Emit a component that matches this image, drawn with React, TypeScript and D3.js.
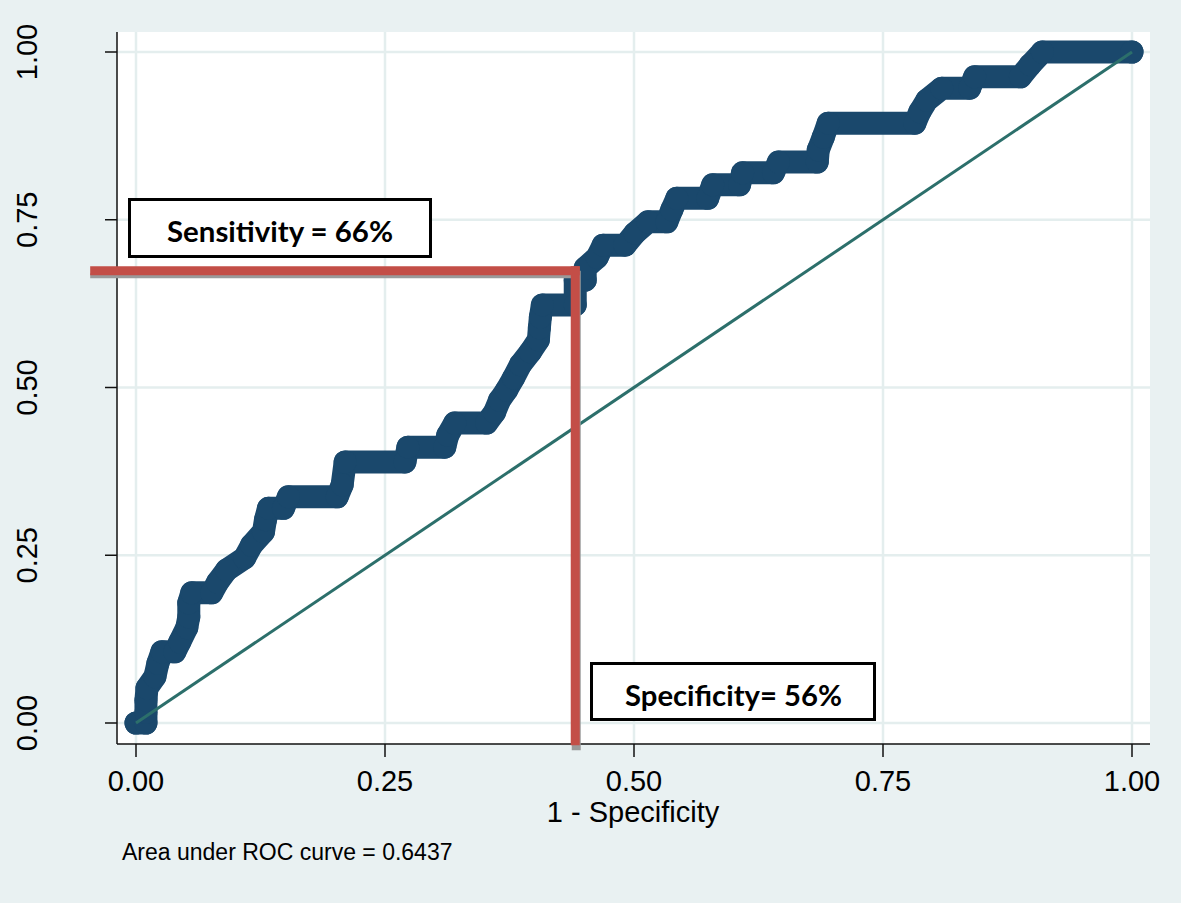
import React from "react";
import * as d3 from "d3";

// ROC curve points (1 - specificity, sensitivity)
const fpr = [
  0, 0.01, 0.01, 0.01, 0.011, 0.019, 0.022, 0.026, 0.039, 0.044, 0.051, 0.053, 0.053, 0.056, 0.076,
  0.082, 0.091, 0.109, 0.116, 0.128, 0.13, 0.133, 0.148, 0.153, 0.202, 0.207, 0.21, 0.27, 0.273,
  0.31, 0.313, 0.32, 0.352, 0.36, 0.365, 0.372, 0.379, 0.386, 0.396, 0.404, 0.405, 0.406, 0.408,
  0.441, 0.441, 0.451, 0.451, 0.463, 0.469, 0.491, 0.501, 0.514, 0.533, 0.538, 0.543, 0.574, 0.579,
  0.606, 0.609, 0.64, 0.645, 0.684, 0.685, 0.69, 0.695, 0.782, 0.787, 0.794, 0.809, 0.837, 0.842,
  0.888, 0.898, 0.91, 1,
];
const tpr = [
  0, 0, 0.016, 0.034, 0.052, 0.069, 0.089, 0.106, 0.106, 0.121, 0.142, 0.158, 0.179, 0.194, 0.194,
  0.21, 0.228, 0.246, 0.265, 0.285, 0.303, 0.32, 0.32, 0.337, 0.337, 0.355, 0.389, 0.389, 0.411,
  0.411, 0.429, 0.447, 0.447, 0.463, 0.481, 0.496, 0.514, 0.534, 0.553, 0.571, 0.589, 0.605, 0.623,
  0.623, 0.66, 0.66, 0.678, 0.694, 0.712, 0.712, 0.73, 0.747, 0.747, 0.765, 0.782, 0.782, 0.802,
  0.802, 0.82, 0.82, 0.836, 0.836, 0.854, 0.873, 0.894, 0.894, 0.911, 0.928, 0.946, 0.946, 0.963,
  0.963, 0.981, 1, 1,
];
const tickValues = [0, 0.25, 0.5, 0.75, 1];
const tickLabels = ["0.00", "0.25", "0.50", "0.75", "1.00"];
const cutoffX = 0.441; // 1 - specificity at chosen cutoff
const cutoffY = 0.674; // sensitivity at chosen cutoff
const refLineStartX = -0.046;
const refLineEndY = -0.033;
const sensLabel = "Sensitivity = 66%";
const specLabel = "Specificity= 56%";
const xTitle = "1 - Specificity";
const aucNote = "Area under ROC curve = 0.6437";

export default function App() {
  const W = 1181;
  const H = 903;
  const x = d3.scaleLinear().domain([0, 1]).range([136, 1132]);
  const y = d3.scaleLinear().domain([0, 1]).range([723, 52]);
  const plotL = 117, plotR = 1150, plotT = 32, plotB = 744;
  const pts = fpr.map((v, i) => [v, tpr[i]] as [number, number]);
  const line = d3.line<[number, number]>().x((d) => x(d[0])).y((d) => y(d[1]));
  const navy = "#1a486c";
  const red = "#c34e47";
  const sansFont = "'Liberation Sans', Arial, sans-serif";
  const boldFont = "Lato, 'Open Sans', sans-serif";

  const cx = x(cutoffX);
  const cy = y(cutoffY);

  return (
    <svg width={W} height={H} style={{ position: "absolute", left: 0, top: 0, display: "block" }}>
      <rect x={0} y={0} width={W} height={H} fill="#e9f1f2" />
      <rect x={plotL} y={plotT} width={plotR - plotL} height={plotB - plotT} fill="#ffffff" />
      {/* gridlines */}
      {tickValues.map((t) => (
        <line key={"gx" + t} x1={x(t)} x2={x(t)} y1={plotT} y2={plotB} stroke="#e4eeee" strokeWidth={2.5} />
      ))}
      {tickValues.map((t) => (
        <line key={"gy" + t} x1={plotL} x2={plotR} y1={y(t)} y2={y(t)} stroke="#e4eeee" strokeWidth={2.5} />
      ))}
      {/* axes */}
      <line x1={plotL} x2={plotL} y1={plotT} y2={plotB} stroke="#111" strokeWidth={1.5} />
      <line x1={plotL} x2={plotR} y1={plotB} y2={plotB} stroke="#111" strokeWidth={1.5} />
      {tickValues.map((t, i) => (
        <g key={"tx" + t}>
          <line x1={x(t)} x2={x(t)} y1={plotB} y2={plotB + 13} stroke="#111" strokeWidth={1.5} />
          <text x={x(t)} y={791} textAnchor="middle" fontFamily={sansFont} fontSize={29} fill="#000">
            {tickLabels[i]}
          </text>
        </g>
      ))}
      {tickValues.map((t, i) => (
        <g key={"ty" + t}>
          <line x1={plotL - 12} x2={plotL} y1={y(t)} y2={y(t)} stroke="#111" strokeWidth={1.5} />
          <text
            transform={`translate(37,${y(t)}) rotate(-90)`}
            textAnchor="middle"
            fontFamily={sansFont}
            fontSize={29}
            fill="#000"
          >
            {tickLabels[i]}
          </text>
        </g>
      ))}
      <text x={633} y={822} textAnchor="middle" fontFamily={sansFont} fontSize={29} fill="#000">
        {xTitle}
      </text>
      <text x={122} y={860} fontFamily={sansFont} fontSize={23} fill="#000">
        {aucNote}
      </text>

      {/* ROC curve */}
      <path d={line(pts) || ""} fill="none" stroke={navy} strokeWidth={23} strokeLinejoin="round" strokeLinecap="round" />
      {pts.map((d, i) => (
        <circle key={"p" + i} cx={x(d[0])} cy={y(d[1])} r={11.5} fill={navy} />
      ))}
      {/* reference diagonal */}
      <line x1={x(0)} y1={y(0)} x2={x(1)} y2={y(1)} stroke="#2c6f6b" strokeWidth={3} />

      {/* cutoff lines with shadow */}
      <line x1={x(refLineStartX)} x2={cx} y1={cy + 5} y2={cy + 5} stroke="#9a9a9a" strokeWidth={5} />
      <line x1={cx + 1} x2={cx + 1} y1={cy} y2={y(refLineEndY) + 5} stroke="#9a9a9a" strokeWidth={9} />
      <line x1={x(refLineStartX)} x2={cx + 4.5} y1={cy} y2={cy} stroke={red} strokeWidth={9} />
      <line x1={cx} x2={cx} y1={cy - 4.5} y2={y(refLineEndY)} stroke={red} strokeWidth={9} />

      {/* annotation boxes */}
      <rect x={129.5} y={199.5} width={301} height={57} fill="#fff" stroke="#000" strokeWidth={3} />
      <text
        x={280}
        y={242}
        textAnchor="middle"
        fontFamily={boldFont}
        fontWeight={700}
        fontSize={29}
        textLength={226}
        lengthAdjust="spacingAndGlyphs"
        fill="#000"
      >
        {sensLabel}
      </text>
      <rect x={591.5} y={663.5} width={283} height={56} fill="#fff" stroke="#000" strokeWidth={3} />
      <text
        x={733.5}
        y={706}
        textAnchor="middle"
        fontFamily={boldFont}
        fontWeight={700}
        fontSize={29}
        textLength={217}
        lengthAdjust="spacingAndGlyphs"
        fill="#000"
      >
        {specLabel}
      </text>
    </svg>
  );
}
